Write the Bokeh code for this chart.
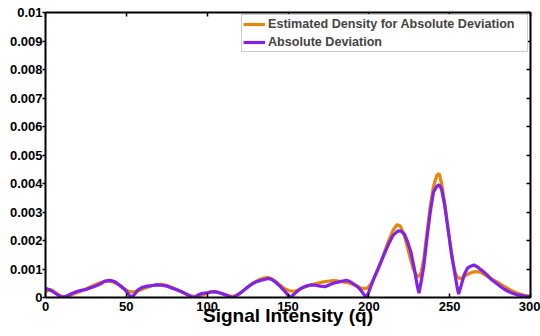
from bokeh.plotting import figure
from bokeh.models import (Range1d, LinearAxis, FixedTicker, CustomJSTickFormatter,
                          Legend, LegendItem)
from bokeh.embed import file_html
from bokeh.resources import INLINE

# ---- data ----
q_est = [0, 2, 4, 6, 9, 12, 15, 18, 21, 24, 27, 30, 33, 36, 39, 42, 45, 48, 51, 54,
         57, 60, 63, 66, 69, 72, 75, 78, 81, 84, 87, 90, 93, 96, 99, 102, 105, 108,
         111, 114, 117, 120, 123, 126, 129, 132, 135, 137, 139, 142, 145, 148, 151,
         154, 157, 160, 164, 168, 172, 176, 179, 182, 185, 188, 191, 194, 197, 199,
         201, 203, 206, 209, 212, 215, 217.5, 219.5, 221.5, 223.5, 225.5, 227.5,
         229.5, 231, 232.5, 234, 236, 238, 240, 242, 243.5, 245, 247, 249, 251.5,
         253.5, 255, 257, 259, 262, 265, 268, 271, 274, 277, 280, 284, 288, 292,
         296, 300]
v_est = [0.00018, 0.00027, 0.00026, 0.00018, 0.00007, 0.00002, 0.00007, 0.00014,
         0.0002, 0.00027, 0.00035, 0.00043, 0.0005, 0.00056, 0.00058, 0.00054,
         0.00045, 0.00033, 0.00023, 0.00019, 0.00023, 0.0003, 0.00036, 0.00041,
         0.00045, 0.00046, 0.00042, 0.00036, 0.00029, 0.0002, 0.00012, 0.00006,
         0.00003, 0.00006, 0.00013, 0.0002, 0.00021, 0.00016, 0.0001, 0.00005,
         0.00005, 0.00013, 0.00026, 0.0004, 0.00053, 0.00062, 0.00068, 0.0007,
         0.00068, 0.00058, 0.00044, 0.00031, 0.00023, 0.00022, 0.00028, 0.00036,
         0.00044, 0.0005, 0.00055, 0.00058, 0.00059, 0.00057, 0.00054, 0.00051,
         0.00044, 0.00036, 0.00031, 0.00033, 0.00045, 0.00065, 0.00102, 0.00148,
         0.00196, 0.00236, 0.00256, 0.0025, 0.00225, 0.00185, 0.0014, 0.001,
         0.00078, 0.00073, 0.0009, 0.00136, 0.0023, 0.0032, 0.0039, 0.00428,
         0.00435, 0.004, 0.0033, 0.0024, 0.00136, 0.00085, 0.0007, 0.00066,
         0.00074, 0.00084, 0.0009, 0.00091, 0.00083, 0.00071, 0.00062, 0.00052,
         0.00038, 0.00025, 0.00015, 0.00008, 0.00004]

q_abs = [0, 3, 6, 9, 11, 13, 16, 19, 22, 25, 28, 31, 34, 37, 39, 41, 43, 46, 49, 51,
         53, 55, 57, 60, 63, 66, 69, 72, 75, 78, 81, 84, 87, 90, 92, 94, 97, 100,
         103, 106, 109, 112, 115, 116, 118, 121, 124, 127, 130, 133, 136, 138, 140,
         142, 144, 146, 148, 150, 151.5, 153, 155, 158, 161, 164, 167, 170, 173,
         175, 178, 181, 184, 186, 188, 190, 193, 195, 197, 198.5, 200, 203, 206,
         209, 212, 215, 218, 220, 222, 224, 226, 228, 230, 231, 232.5, 234, 236,
         238, 240, 242, 243.5, 245, 247, 249, 251, 253, 254.5, 255.5, 257, 259,
         261, 263, 265, 267, 270, 273, 276, 280, 284, 288, 292, 296, 300]
v_abs = [0.00032, 0.00026, 0.00015, 0.00004, 0.0, 0.00005, 0.00013, 0.0002,
         0.00025, 0.00028, 0.00034, 0.0004, 0.00048, 0.00058, 0.0006, 0.00059,
         0.00055, 0.00043, 0.00028, 0.00014, 0.0, 0.0001, 0.00026, 0.00036,
         0.0004, 0.00042, 0.00044, 0.00043, 0.0004, 0.00033, 0.00027, 0.00021,
         0.00012, 0.00003, 0.0, 0.00008, 0.00015, 0.00016, 0.0002, 0.00019,
         0.00014, 0.00008, 0.00001, 0.0, 0.00006, 0.00018, 0.00032, 0.00045,
         0.00054, 0.0006, 0.00064, 0.00067, 0.00063, 0.00055, 0.00045, 0.00034,
         0.00022, 0.00008, 0.0, 0.00008, 0.00018, 0.00032, 0.0004, 0.00044,
         0.00043, 0.0004, 0.00038, 0.00043, 0.0005, 0.00054, 0.00058, 0.0006,
         0.00057, 0.0005, 0.00038, 0.00026, 0.0001, 0.0, 0.0002, 0.00065,
         0.00105, 0.00145, 0.00185, 0.00218, 0.00234, 0.00233, 0.00222, 0.00195,
         0.0016, 0.00105, 0.0004, 0.00015, 0.0006, 0.0011, 0.0021, 0.003, 0.0037,
         0.0039, 0.00396, 0.0038, 0.0032, 0.0024, 0.0016, 0.0009, 0.0004, 0.00012,
         0.0004, 0.0008, 0.00103, 0.0011, 0.00114, 0.00108, 0.00095, 0.0008,
         0.00062, 0.00045, 0.00028, 0.00017, 0.00009, 0.00005, 0.00002]

x_ticks = [0, 50, 100, 150, 200, 250, 300]
y_ticks = [0, 0.001, 0.002, 0.003, 0.004, 0.005, 0.006, 0.007, 0.008, 0.009, 0.01]
series_names = ["Estimated Density for Absolute Deviation", "Absolute Deviation"]

FONT = "Liberation Sans"
ORANGE = "#E3870E"
PURPLE = "#8222E6"

p = figure(width=540, height=336, output_backend="svg", toolbar_location=None,
           x_range=Range1d(0, 300), y_range=Range1d(0, 0.01),
           min_border_left=45, min_border_right=10, min_border_top=12,
           min_border_bottom=39)
p.grid.visible = False
p.outline_line_color = None
p.background_fill_color = "white"

r1 = p.line(q_est, v_est, line_color=ORANGE, line_width=3.2)
r2 = p.line(q_abs, v_abs, line_color=PURPLE, line_width=3.2)

ylabfmt = CustomJSTickFormatter(code="return tick == 0 ? '0' : parseFloat(tick.toFixed(4)).toString();")

xa = p.xaxis[0]
xa.ticker = FixedTicker(ticks=x_ticks)
xa.axis_label = "Signal Intensity (q)"
xa.axis_label_text_font = FONT
xa.axis_label_text_font_style = "bold"
xa.axis_label_text_font_size = "19px"
xa.axis_label_standoff = -9
xa.major_label_text_font = FONT
xa.major_label_text_font_style = "bold"
xa.major_label_text_font_size = "13px"
xa.major_label_standoff = 4
xa.major_tick_in = 4
xa.major_tick_out = 0
xa.minor_tick_line_color = None
xa.axis_line_width = 2
xa.axis_line_color = "black"
xa.major_tick_line_width = 1.5
xa.major_tick_line_color = "black"
xa.major_label_text_color = "black"
xa.axis_label_text_color = "black"

ya = p.yaxis[0]
ya.ticker = FixedTicker(ticks=y_ticks)
ya.formatter = ylabfmt
ya.major_label_text_font = FONT
ya.major_label_text_font_style = "bold"
ya.major_label_text_font_size = "13px"
ya.major_label_text_color = "black"
ya.major_label_standoff = 0
ya.major_tick_in = 0
ya.major_tick_out = 3
ya.minor_tick_line_color = None
ya.axis_line_width = 2
ya.axis_line_color = "black"
ya.major_tick_line_width = 1.5
ya.major_tick_line_color = "black"

blank = CustomJSTickFormatter(code="return '';")
top = LinearAxis(ticker=FixedTicker(ticks=x_ticks), formatter=blank,
                 major_tick_in=4, major_tick_out=0, minor_tick_line_color=None,
                 major_label_standoff=0, major_label_text_font_size="0px",
                 axis_line_width=2, axis_line_color="black",
                 major_tick_line_width=1.5, major_tick_line_color="black")
right = LinearAxis(ticker=FixedTicker(ticks=y_ticks), formatter=blank,
                   major_tick_in=4, major_tick_out=0, minor_tick_line_color=None,
                   major_label_standoff=0, major_label_text_font_size="0px",
                   axis_line_width=2, axis_line_color="black",
                   major_tick_line_width=1.5, major_tick_line_color="black")
p.add_layout(top, "above")
p.add_layout(right, "right")

legend = Legend(items=[LegendItem(label=series_names[0], renderers=[r1]),
                       LegendItem(label=series_names[1], renderers=[r2])],
                location="top_right", margin=2, padding=1, spacing=2,
                glyph_width=22, glyph_height=16, label_height=16,
                label_standoff=3, label_width=258,
                label_text_font=FONT, label_text_font_style="bold",
                label_text_font_size="12.6px",
                border_line_color="#999999", border_line_width=1,
                background_fill_alpha=1.0)
p.add_layout(legend, "center")

open("out.html", "w").write(file_html(p, INLINE))
